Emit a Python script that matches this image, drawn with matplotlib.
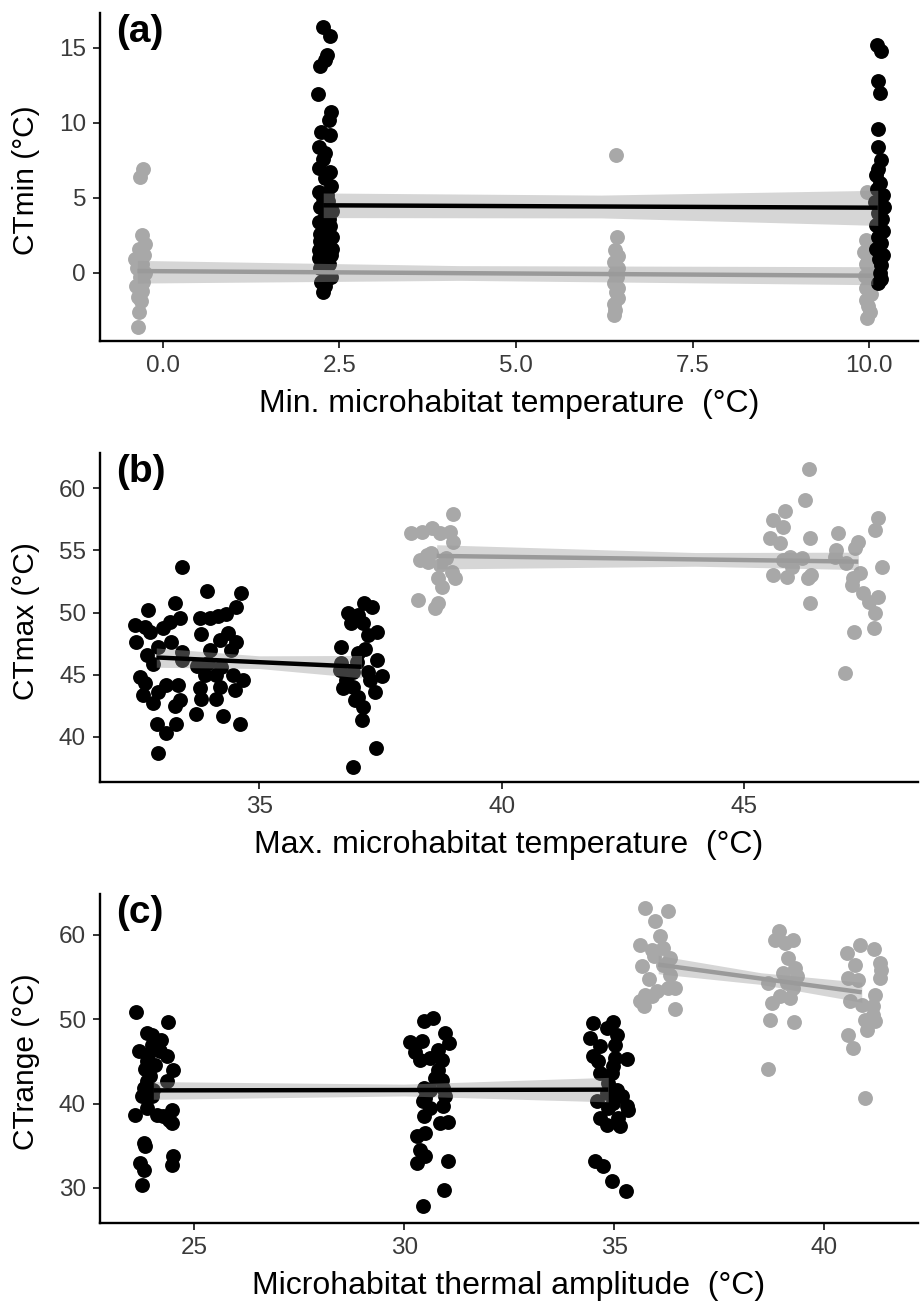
import matplotlib
matplotlib.use("Agg")
import matplotlib.pyplot as plt

plt.rcParams["font.family"] = ["Liberation Sans", "DejaVu Sans"]

BLACK = "#000000"
GREY_POINT = "#A8A8A8"
GREY_LINE = "#9A9A9A"
BAND = "#999999"

# ---- panel (a): CTmin vs min. microhabitat temperature ----
a_black_x = [2.26, 2.37, 2.33, 2.30, 2.22, 2.20, 2.38, 2.35, 2.24, 2.37, 2.21, 2.30,
             2.26, 2.21, 2.36, 2.30, 2.38, 2.21, 2.33, 2.27, 2.34, 2.27, 2.22, 2.39,
             2.30, 2.35, 2.21, 2.36, 2.27, 2.23, 2.40, 2.23, 2.33, 2.40, 2.21, 2.38,
             2.21, 2.27, 2.35, 2.29, 2.22, 2.31, 2.38, 2.33, 2.24, 2.30, 2.27,
             10.11, 10.17, 10.12, 10.15, 10.13, 10.13, 10.16, 10.12, 10.09, 10.15,
             10.11, 10.19, 10.08, 10.21, 10.13, 10.18, 10.10, 10.20, 10.12, 10.17,
             10.09, 10.19, 10.14, 10.17, 10.15, 10.16, 10.12]
a_black_y = [16.4, 15.8, 14.5, 14.2, 13.8, 11.9, 10.7, 10.2, 9.4, 9.2, 8.4, 8.0,
             7.6, 7.0, 6.7, 6.3, 5.8, 5.4, 5.2, 5.0, 4.8, 4.6, 4.4, 4.1,
             3.8, 3.6, 3.4, 3.1, 2.8, 2.6, 2.4, 2.1, 1.8, 1.6, 1.5, 1.2,
             1.0, 0.9, 0.6, 0.5, 0.3, 0.0, -0.3, -0.4, -0.6, -0.9, -1.3,
             15.15, 14.8, 12.8, 12.0, 9.6, 8.4, 7.5, 6.9, 6.5, 6.0,
             5.6, 5.2, 4.7, 4.4, 4.0, 3.6, 3.2, 2.8, 2.4, 2.0,
             1.6, 1.2, 0.9, 0.5, 0.0, -0.4, -0.7]
a_grey_x = [-0.28, -0.32, -0.30, -0.25, -0.34, -0.27, -0.40, -0.30, -0.36, -0.26,
            -0.33, -0.28, -0.38, -0.30, -0.35, -0.31, -0.34, -0.35,
            6.42, 6.43, 6.40, 6.44, 6.38, 6.45, 6.40, 6.43, 6.39, 6.45, 6.41, 6.44,
            6.39, 6.40, 6.38,
            9.97, 9.96, 10.00, 9.93, 9.98, 9.95, 10.02, 9.94, 9.99, 9.96, 10.02,
            9.95, 9.98, 10.01, 9.97]
a_grey_y = [6.9, 6.4, 2.5, 1.9, 1.6, 1.2, 0.9, 0.6, 0.3, 0.0,
            -0.3, -0.6, -0.9, -1.2, -1.6, -1.9, -2.6, -3.6,
            7.85, 2.4, 1.5, 1.1, 0.7, 0.3, 0.0, -0.3, -0.7, -1.0, -1.3, -1.7,
            -2.1, -2.5, -2.8,
            5.4, 2.2, 1.8, 1.4, 1.0, 0.6, 0.2, -0.2, -0.6, -1.0, -1.4,
            -1.8, -2.2, -2.6, -3.0]
a_black_fit_x = [2.27, 6.2, 10.12]
a_black_fit_y = [4.49, 4.41, 4.33]
a_black_fit_lo = [3.67, 3.65, 3.15]
a_black_fit_hi = [5.31, 5.17, 5.49]
a_grey_fit_x = [-0.36, 4.2, 10.05]
a_grey_fit_y = [0.11, -0.03, -0.2]
a_grey_fit_lo = [-0.69, -0.51, -0.8]
a_grey_fit_hi = [0.82, 0.47, 0.4]

# ---- panel (b): CTmax vs max. microhabitat temperature ----
b_black_x = [33.40, 33.93, 34.62, 33.26, 34.52, 32.71, 33.78, 33.98, 34.15, 34.31,
             33.36, 33.16, 32.44, 32.64, 33.02, 32.75, 33.81, 34.36, 33.19, 32.47,
             34.19, 34.53, 32.92, 33.98, 34.43, 32.68, 33.40, 33.40, 32.81, 33.71,
             33.95, 34.22, 32.54, 33.88, 34.12, 34.46, 34.67, 32.64, 33.09, 33.33,
             33.78, 34.19, 34.50, 32.92, 32.61, 33.81, 34.12, 33.36, 32.81, 33.26,
             33.70, 34.26, 32.90, 33.28, 34.60, 33.08, 32.92,
             37.16, 37.32, 36.84, 37.04, 36.90, 37.14, 37.42, 37.25, 36.68, 37.18,
             37.04, 37.43, 36.68, 37.01, 36.66, 36.94, 37.25, 37.54, 36.80, 37.28,
             36.72, 36.94, 37.39, 37.04, 36.97, 37.14, 37.13, 37.41, 36.93]
b_black_y = [53.64, 51.76, 51.55, 50.74, 50.47, 50.20, 49.53, 49.53, 49.72, 49.88,
             49.53, 49.26, 48.99, 48.86, 48.73, 48.45, 48.27, 48.32, 47.65, 47.65,
             47.79, 47.65, 47.25, 46.98, 46.98, 46.58, 46.84, 46.18, 45.85, 45.69,
             45.91, 45.64, 44.83, 44.97, 44.97, 44.97, 44.57, 44.30, 44.16, 44.16,
             43.90, 44.03, 43.76, 43.62, 43.36, 43.09, 43.09, 42.95, 42.74, 42.47,
             41.88, 41.66, 41.02, 41.08, 41.02, 40.32, 38.71,
             50.79, 50.42, 49.98, 49.80, 49.13, 49.13, 48.45, 48.19, 47.20, 47.04,
             46.71, 46.18, 45.91, 46.04, 45.37, 45.23, 45.23, 44.89, 44.57, 44.57,
             43.90, 44.03, 43.62, 43.22, 42.95, 42.42, 41.40, 39.15, 37.58]
b_grey_x = [39.00, 38.14, 38.35, 38.57, 38.73, 38.93, 39.00, 38.55, 38.31, 38.48,
            38.73, 38.97, 38.69, 39.04, 38.76, 38.28, 38.68, 38.62, 38.45, 38.85,
            46.34, 46.25, 45.84, 45.60, 45.80, 47.76, 47.69, 46.94, 45.53, 45.74,
            46.35, 47.35, 47.28, 46.90, 45.94, 46.18, 45.80, 46.87, 47.10, 45.98,
            47.83, 45.60, 45.87, 46.38, 46.31, 47.38, 47.25, 47.21, 47.45, 47.76,
            47.56, 47.69, 46.35, 47.26, 47.67, 47.08]
b_grey_y = [57.93, 56.38, 56.51, 56.78, 56.38, 56.51, 55.70, 54.77, 54.23, 54.09,
            53.82, 53.29, 52.75, 52.75, 52.08, 51.01, 50.74, 50.34, 54.60, 54.40,
            61.53, 59.06, 58.12, 57.45, 56.91, 57.58, 56.64, 56.38, 55.97, 55.62,
            55.97, 55.70, 55.17, 55.03, 54.49, 54.36, 54.23, 54.49, 53.96, 53.69,
            53.69, 53.02, 52.88, 53.02, 52.75, 53.16, 52.75, 52.21, 51.55, 51.27,
            50.87, 49.98, 50.74, 48.45, 48.73, 45.10]
b_black_fit_x = [32.88, 35.0, 37.11]
b_black_fit_y = [46.39, 46.01, 45.64]
b_black_fit_lo = [45.6, 45.5, 44.75]
b_black_fit_hi = [47.15, 46.52, 46.55]
b_grey_fit_x = [38.66, 44.0, 47.35]
b_grey_fit_y = [54.55, 54.27, 54.09]
b_grey_fit_lo = [53.5, 53.72, 53.45]
b_grey_fit_hi = [55.45, 54.82, 54.85]

# ---- panel (c): CTrange vs microhabitat thermal amplitude ----
c_black_x = [23.61, 24.37, 23.87, 24.20, 23.99, 23.67, 23.90, 24.18, 24.34, 23.87,
             24.06, 23.83, 24.50, 23.94, 23.87, 24.34, 23.79, 24.02, 23.75, 23.99,
             23.59, 23.87, 24.10, 24.26, 24.46, 24.46, 23.79, 23.83, 24.50, 24.46,
             23.71, 23.79, 23.75, 24.00, 24.40,
             30.46, 30.68, 30.97, 30.14, 30.42, 31.07, 30.26, 30.81, 30.38, 30.61,
             30.89, 30.81, 30.73, 30.89, 30.46, 30.93, 30.50, 30.97, 30.61, 30.93,
             30.46, 30.85, 31.05, 30.50, 30.30, 30.38, 30.50, 30.30, 31.03, 30.95,
             30.44, 30.61, 30.45,
             34.50, 34.98, 34.82, 35.06, 34.43, 34.66, 35.02, 34.50, 35.02, 35.30,
             34.62, 34.98, 34.66, 34.94, 34.86, 35.06, 34.82, 35.18, 34.59, 34.98,
             35.30, 35.34, 34.86, 34.66, 35.10, 34.82, 35.14, 34.55, 34.74, 34.94,
             35.28]
c_black_y = [50.81, 49.62, 48.36, 47.57, 46.98, 46.18, 45.79, 46.18, 45.59, 45.00,
             44.61, 44.10, 43.93, 43.31, 42.63, 42.63, 41.85, 41.65, 40.94, 40.85,
             38.68, 39.48, 38.68, 38.57, 39.28, 37.70, 35.33, 34.93, 33.74, 32.76,
             32.96, 32.17, 30.39, 48.16, 38.10,
             49.74, 50.14, 48.36, 47.25, 47.37, 47.18, 46.07, 46.30, 45.20, 45.40,
             45.20, 44.02, 43.03, 42.83, 41.85, 41.85, 40.66, 40.85, 39.48, 39.67,
             38.48, 37.70, 37.77, 36.52, 36.12, 34.54, 33.74, 32.96, 33.15, 29.72,
             27.90, 41.65, 40.26,
             49.55, 49.62, 48.96, 48.16, 47.77, 46.78, 46.98, 45.59, 45.40, 45.28,
             45.00, 44.41, 43.63, 43.63, 42.44, 41.65, 41.26, 40.85, 40.26, 40.07,
             39.67, 39.28, 39.48, 38.29, 38.29, 37.50, 37.30, 33.15, 32.56, 30.78,
             29.68]
c_grey_x = [35.74, 36.29, 35.97, 36.09, 35.62, 35.90, 36.17, 35.94, 36.33, 35.66,
            36.17, 36.33, 35.84, 36.29, 36.45, 36.01, 35.74, 35.62, 35.90, 35.70,
            36.45,
            38.94, 38.83, 39.07, 39.27, 39.15, 39.31, 39.03, 39.35, 38.67, 39.11,
            39.27, 38.95, 39.19, 38.75, 38.71, 39.29, 38.67,
            40.86, 41.20, 40.54, 40.74, 41.33, 41.37, 41.33, 40.58, 40.82, 41.21,
            40.62, 40.90, 41.17, 41.17, 40.98, 41.21, 41.02, 40.58, 40.70, 40.98]
c_grey_y = [63.18, 62.77, 61.59, 59.89, 58.83, 58.24, 58.44, 57.44, 57.25, 56.34,
            56.46, 55.27, 54.76, 53.70, 53.70, 53.29, 52.90, 52.11, 52.70, 51.52,
            51.21,
            60.40, 59.42, 59.03, 59.42, 57.25, 56.07, 55.47, 55.07, 54.29, 54.29,
            53.70, 52.70, 52.51, 51.92, 49.94, 49.62, 44.10,
            58.83, 58.32, 57.84, 56.46, 56.66, 55.87, 54.88, 54.88, 54.68, 52.90,
            52.11, 51.72, 51.52, 50.53, 49.94, 49.74, 48.76, 48.16, 46.59, 40.66]
c_black_fit_x = [24.02, 30.0, 34.86]
c_black_fit_y = [41.56, 41.60, 41.65]
c_black_fit_lo = [40.5, 40.9, 40.2]
c_black_fit_hi = [42.6, 42.3, 43.1]
c_grey_fit_x = [36.05, 38.5, 40.9]
c_grey_fit_y = [56.46, 54.80, 53.18]
c_grey_fit_lo = [55.37, 54.11, 52.0]
c_grey_fit_hi = [57.55, 55.49, 54.36]

panels = [
    dict(tag="(a)", ylabel="CTmin (°C)", xlabel="Min. microhabitat temperature  (°C)",
         grey=(a_grey_x, a_grey_y), black=(a_black_x, a_black_y),
         grey_fit=(a_grey_fit_x, a_grey_fit_y, a_grey_fit_lo, a_grey_fit_hi),
         black_fit=(a_black_fit_x, a_black_fit_y, a_black_fit_lo, a_black_fit_hi),
         xlim=(-0.89, 10.69), ylim=(-4.55, 17.3),
         xticks=[0.0, 2.5, 5.0, 7.5, 10.0], xticklabels=["0.0", "2.5", "5.0", "7.5", "10.0"],
         yticks=[0, 5, 10, 15],
         rect=(100, 13, 918, 341)),
    dict(tag="(b)", ylabel="CTmax (°C)", xlabel="Max. microhabitat temperature  (°C)",
         grey=(b_grey_x, b_grey_y), black=(b_black_x, b_black_y),
         grey_fit=(b_grey_fit_x, b_grey_fit_y, b_grey_fit_lo, b_grey_fit_hi),
         black_fit=(b_black_fit_x, b_black_fit_y, b_black_fit_lo, b_black_fit_hi),
         xlim=(31.72, 48.58), ylim=(36.38, 62.82),
         xticks=[35, 40, 45], xticklabels=["35", "40", "45"],
         yticks=[40, 45, 50, 55, 60],
         rect=(100, 453, 918, 782)),
    dict(tag="(c)", ylabel="CTrange (°C)", xlabel="Microhabitat thermal amplitude  (°C)",
         grey=(c_grey_x, c_grey_y), black=(c_black_x, c_black_y),
         grey_fit=(c_grey_fit_x, c_grey_fit_y, c_grey_fit_lo, c_grey_fit_hi),
         black_fit=(c_black_fit_x, c_black_fit_y, c_black_fit_lo, c_black_fit_hi),
         xlim=(22.75, 42.24), ylim=(25.85, 64.82),
         xticks=[25, 30, 35, 40], xticklabels=["25", "30", "35", "40"],
         yticks=[30, 40, 50, 60],
         rect=(100, 894, 918, 1223)),
]

W, H = 921, 1303
fig = plt.figure(figsize=(W / 100, H / 100), dpi=100)

for p in panels:
    x0, y0, x1, y1 = p["rect"]
    ax = fig.add_axes([x0 / W, 1 - y1 / H, (x1 - x0) / W, (y1 - y0) / H])

    ax.scatter(*p["grey"], s=115, color=GREY_POINT, linewidths=0, zorder=2)
    ax.scatter(*p["black"], s=115, color=BLACK, linewidths=0, zorder=2)

    for fit, col in ((p["grey_fit"], GREY_LINE), (p["black_fit"], BLACK)):
        fx, fy, lo, hi = fit
        ax.fill_between(fx, lo, hi, color=BAND, alpha=0.4, linewidth=0, zorder=3)
        ax.plot(fx, fy, color=col, linewidth=3.2, solid_capstyle="butt", zorder=4)

    ax.set_xlim(*p["xlim"])
    ax.set_ylim(*p["ylim"])
    ax.set_xticks(p["xticks"])
    ax.set_xticklabels(p["xticklabels"])
    ax.set_yticks(p["yticks"])

    for side in ("top", "right"):
        ax.spines[side].set_visible(False)
    for side in ("left", "bottom"):
        ax.spines[side].set_linewidth(1.7)
        ax.spines[side].set_color(BLACK)
    ax.tick_params(direction="out", length=5, width=1.4, color="#333333",
                   labelsize=17.5, labelcolor="#3A3A3A", pad=5)

    ax.set_xlabel(p["xlabel"], fontsize=23)
    ax.set_ylabel(p["ylabel"], fontsize=21.5)
    ax.xaxis.set_label_coords(0.5, -0.145)
    ax.yaxis.set_label_coords(-0.073, 0.49)

    ax.text(0.02, 0.998, p["tag"], transform=ax.transAxes, ha="left", va="top",
            fontsize=28, fontweight="bold")

fig.savefig("out.png", dpi=100)
